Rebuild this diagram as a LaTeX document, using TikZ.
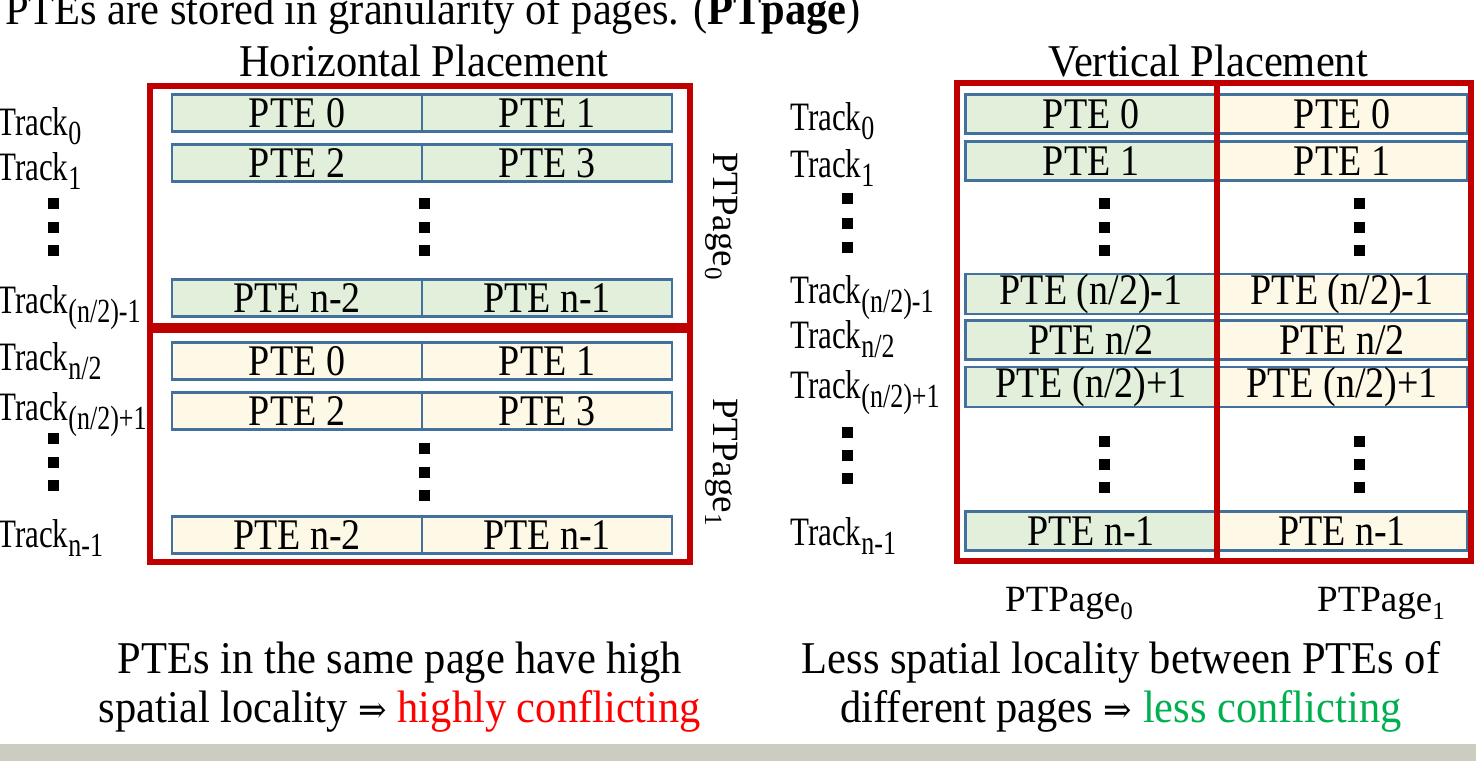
\documentclass[tikz,border=0pt]{standalone}
\usepackage{fontspec}
\setmainfont{Liberation Serif}
\newfontfamily\arrowfont{DejaVu Serif}
\usepackage{graphicx}

\definecolor{boxred}{RGB}{192,0,0}
\definecolor{pteblue}{RGB}{65,113,156}
\definecolor{gfill}{RGB}{226,239,218}
\definecolor{yfill}{RGB}{254,248,230}
\definecolor{hotred}{RGB}{255,0,0}
\definecolor{coolgreen}{RGB}{0,176,80}
\definecolor{barbg}{RGB}{204,204,192}

% vertically stretched text helpers
\newcommand{\vst}[2]{\scalebox{1}[#1]{#2}}
\newcommand{\bigtxt}[1]{\vst{1.07}{\fontsize{42.5}{50}\selectfont #1}}
\newcommand{\ptetxt}[1]{\vst{1.15}{\fontsize{38}{38}\selectfont #1}}
\newcommand{\trk}[1]{\vst{1.3}{\fontsize{31}{31}\selectfont Track\raisebox{-7.5pt}{\fontsize{26}{26}\selectfont #1}}}
\newcommand{\ptp}[1]{{\fontsize{37}{37}\selectfont PTPage\raisebox{-8pt}{\fontsize{25}{25}\selectfont #1}}}
\newcommand{\implies}{{\arrowfont\fontsize{34}{34}\selectfont ⇒}}
\newcommand{\sqdot}[2]{\fill ({#1-5.5},{#2-5.5}) rectangle ++(11,11);}

\begin{document}
\begin{tikzpicture}[x=1pt,y=-1pt,
  cellbase/.style={draw=pteblue, line width=2.5pt, inner sep=0pt, anchor=center},
  hcell/.style={cellbase, minimum width=250pt, minimum height=37pt},
  vcell/.style={cellbase, minimum width=251pt, minimum height=39pt},
  hg/.style={hcell, fill=gfill}, hy/.style={hcell, fill=yfill},
  vg/.style={vcell, fill=gfill}, vy/.style={vcell, fill=yfill},
  pagebox/.style={draw=boxred, line width=5.5pt},
  lbl/.style={inner sep=0pt, anchor=base west},
  ctr/.style={inner sep=0pt, anchor=base}]
\useasboundingbox (0,0) rectangle (1476,761);

% title and headings
\node[lbl] (title) at (5,24) {\bigtxt{PTEs are stored in granularity of pages. (\textbf{PTpage})}};
\node[ctr] (hhead) at (424,76) {\bigtxt{Horizontal Placement}};
\node[ctr] (vhead) at (1208,76) {\bigtxt{Vertical Placement}};

% ---------- horizontal placement ----------
\node[hg] (h00) at (297,113) {\ptetxt{PTE 0}};
\node[hg] (h01) at (547,113) {\ptetxt{PTE 1}};
\node[hg] (h10) at (297,163) {\ptetxt{PTE 2}};
\node[hg] (h11) at (547,163) {\ptetxt{PTE 3}};
\node[hg] (h20) at (297,298) {\ptetxt{PTE n-2}};
\node[hg] (h21) at (547,298) {\ptetxt{PTE n-1}};
\node[hy] (h30) at (297,361) {\ptetxt{PTE 0}};
\node[hy] (h31) at (547,361) {\ptetxt{PTE 1}};
\node[hy] (h40) at (297,411) {\ptetxt{PTE 2}};
\node[hy] (h41) at (547,411) {\ptetxt{PTE 3}};
\node[hy] (h50) at (297,535) {\ptetxt{PTE n-2}};
\node[hy] (h51) at (547,535) {\ptetxt{PTE n-1}};

\draw[pagebox] (150,86) rectangle (690,326);
\draw[pagebox] (150,330) rectangle (690,562);

\sqdot{424}{203}\sqdot{424}{227}\sqdot{424}{250}
\sqdot{424}{448}\sqdot{424}{472}\sqdot{424}{495}

\node[lbl] (lt0) at (-3,135) {\trk{0}};
\node[lbl] (lt1) at (-3,180) {\trk{1}};
\node[lbl] (lt2) at (-3,313) {\trk{(n/2)-1}};
\node[lbl] (lt3) at (-3,370) {\trk{n/2}};
\node[lbl] (lt4) at (-3,420) {\trk{(n/2)+1}};
\node[lbl] (lt5) at (-3,547) {\trk{n-1}};
\sqdot{53}{203}\sqdot{53}{227}\sqdot{53}{250}
\sqdot{53}{438}\sqdot{53}{462}\sqdot{53}{485}

\node[lbl, rotate=-90] (hp0) at (713,152) {\ptp{0}};
\node[lbl, rotate=-90] (hp1) at (713,398) {\ptp{1}};

% ---------- vertical placement ----------
\node[vg] (v00) at (1091,114) {\ptetxt{PTE 0}};
\node[vy] (v01) at (1342,114) {\ptetxt{PTE 0}};
\node[vg] (v10) at (1091,161) {\ptetxt{PTE 1}};
\node[vy] (v11) at (1342,161) {\ptetxt{PTE 1}};
\node[vg] (v20) at (1091,294) {\ptetxt{PTE (n/2)-1}};
\node[vy] (v21) at (1342,294) {\ptetxt{PTE (n/2)-1}};
\node[vg] (v30) at (1091,340) {\ptetxt{PTE n/2}};
\node[vy] (v31) at (1342,340) {\ptetxt{PTE n/2}};
\node[vg] (v40) at (1091,387) {\ptetxt{PTE (n/2)+1}};
\node[vy] (v41) at (1342,387) {\ptetxt{PTE (n/2)+1}};
\node[vg] (v50) at (1091,531) {\ptetxt{PTE n-1}};
\node[vy] (v51) at (1342,531) {\ptetxt{PTE n-1}};

\draw[pagebox] (957,83) rectangle (1217,561);
\draw[pagebox] (1217,83) rectangle (1471,561);

\sqdot{1104}{203}\sqdot{1104}{227}\sqdot{1104}{250}
\sqdot{1104}{441}\sqdot{1104}{464}\sqdot{1104}{487}
\sqdot{1359}{203}\sqdot{1359}{227}\sqdot{1359}{250}
\sqdot{1359}{441}\sqdot{1359}{464}\sqdot{1359}{487}

\node[lbl] (rt0) at (790,130) {\trk{0}};
\node[lbl] (rt1) at (790,177) {\trk{1}};
\node[lbl] (rt2) at (790,303) {\trk{(n/2)-1}};
\node[lbl] (rt3) at (790,348) {\trk{n/2}};
\node[lbl] (rt4) at (790,398) {\trk{(n/2)+1}};
\node[lbl] (rt5) at (790,545) {\trk{n-1}};
\sqdot{847}{198}\sqdot{847}{223}\sqdot{847}{247}
\sqdot{847}{432}\sqdot{847}{455}\sqdot{847}{478}

\node[lbl] (vp0) at (1005,611) {\ptp{0}};
\node[lbl] (vp1) at (1317,611) {\ptp{1}};

% ---------- conclusions ----------
\node[ctr] (lc1) at (400,673) {\bigtxt{PTEs in the same page have high}};
\node[ctr] (lc2) at (400,722) {\bigtxt{spatial locality \implies{} \textcolor{hotred}{highly conflicting}}};
\node[ctr] (rc1) at (1121,673) {\bigtxt{Less spatial locality between PTEs of}};
\node[ctr] (rc2) at (1121,722) {\bigtxt{different pages \implies{} \textcolor{coolgreen}{less conflicting}}};

% footer band
\fill[barbg] (0,744) rectangle (1476,761);
\end{tikzpicture}
\end{document}
